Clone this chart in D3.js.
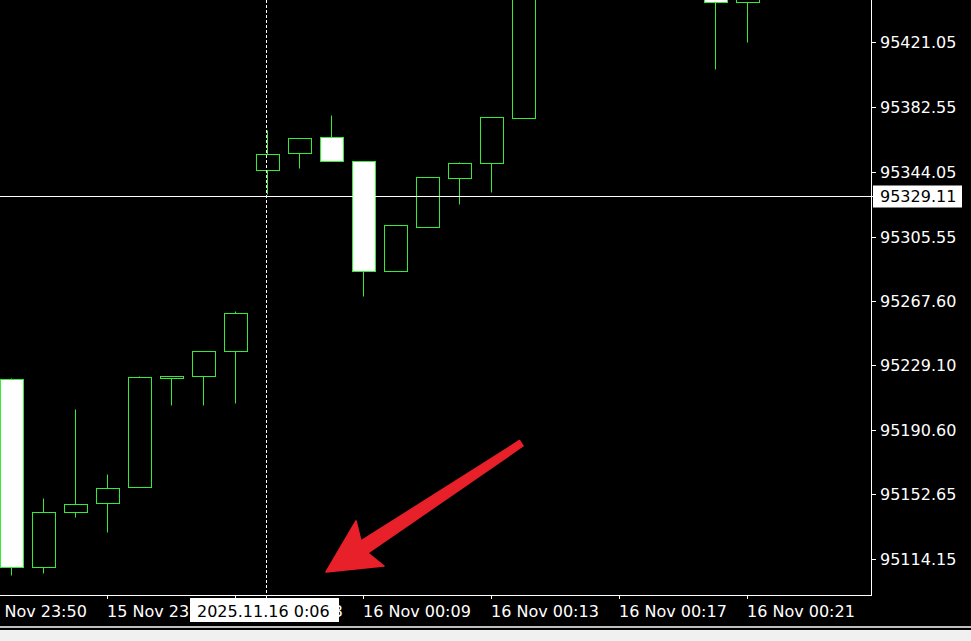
<!DOCTYPE html>
<meta charset="utf-8">
<script src="https://d3js.org/d3.v7.min.js"></script>
<style>
  body { margin: 0; background: #000; }
  svg { display: block; }
  text { font-family: "DejaVu Sans", Verdana, sans-serif; font-size: 16px; }
</style>
<svg id="chart" width="971" height="641"></svg>

<script>

  // bars (index along the time axis) and their prices
  var barIndex = [0, 1, 2, 3, 4, 5, 6, 7, 8, 9, 10, 11, 12, 13, 14, 15, 16, 22, 23];
  var opens  = [95221.1, 95109.6, 95142.2, 95147.5, 95157.0, 95221.4, 95222.8, 95237.7, 95345.0, 95355.1, 95364.6, 95350.3, 95285.1, 95311.2, 95340.2, 95349.1, 95375.8, 95460.0, 95444.9];
  var highs  = [95221.6, 95150.5, 95203.3, 95164.7, 95222.8, 95222.9, 95237.7, 95261.4, 95368.7, 95364.0, 95377.6, 95350.3, 95312.4, 95340.8, 95349.7, 95376.4, 95480.0, 95470.0, 95460.0];
  var lows   = [95104.8, 95106.0, 95139.2, 95130.3, 95157.0, 95205.6, 95205.6, 95206.8, 95330.8, 95346.2, 95350.3, 95270.3, 95285.1, 95311.2, 95324.8, 95331.9, 95375.8, 95404.9, 95420.9];
  var closes = [95109.6, 95142.2, 95146.9, 95156.4, 95222.2, 95222.9, 95237.7, 95260.2, 95354.5, 95364.0, 95350.3, 95285.1, 95312.4, 95340.8, 95349.1, 95376.4, 95470.0, 95444.9, 95455.0];

  // axis labels
  var priceTicks = [95421.05, 95382.55, 95344.05, 95305.55, 95267.60, 95229.10, 95190.60, 95152.65, 95114.15];
  var timeTickBars = [-1, 3, 7, 11, 15, 19, 23];
  var timeTickLabels = ["15 Nov 23:50", "15 Nov 23:58", "16 Nov 00:03", "16 Nov 00:09", "16 Nov 00:13", "16 Nov 00:17", "16 Nov 00:21"];

  // crosshair
  var crossBar = 8;
  var crossPrice = 95329.11;
  var crossDate = "2025.11.16 0:06";

  var svg = d3.select("#chart"),
    width = +svg.attr("width"),
    height = +svg.attr("height");

  var plotW = 871, plotH = 595;
  var green = "#38ea38";

  var candles = barIndex.map(function (b, i) {
    return { bar: b, o: opens[i], h: highs[i], l: lows[i], c: closes[i] };
  });

  var x = d3.scaleLinear().domain([0, 1]).range([11, 43]);
  var y = d3.scaleLinear().domain([95093.0, 95445.8]).range([plotH, 0]);

  // background
  svg.append("rect").attr("width", width).attr("height", height).attr("fill", "#000");
  svg.append("rect").attr("x", 0).attr("y", 630).attr("width", width).attr("height", 11).attr("fill", "#f0f0f0");
  svg.append("line").attr("x1", 0).attr("x2", width).attr("y1", 627).attr("y2", 627)
    .attr("stroke", "#fff").attr("stroke-width", 1.5);

  svg.append("clipPath").attr("id", "plotclip")
    .append("rect").attr("width", plotW).attr("height", plotH);

  var plot = svg.append("g").attr("clip-path", "url(#plotclip)");

  // candles
  var g = plot.selectAll("g.candle")
    .data(candles)
    .enter()
    .append("g")
    .attr("class", "candle");

  g.append("line")
    .attr("x1", function (d) { return x(d.bar) + 0.5; })
    .attr("x2", function (d) { return x(d.bar) + 0.5; })
    .attr("y1", function (d) { return Math.round(y(d.h)) + 0.5; })
    .attr("y2", function (d) { return Math.round(y(d.l)) + 0.5; })
    .attr("stroke", green);

  g.append("rect")
    .attr("x", function (d) { return x(d.bar) - 11 + 0.5; })
    .attr("y", function (d) { return Math.round(y(Math.max(d.o, d.c))) + 0.5; })
    .attr("width", 23)
    .attr("height", function (d) { return Math.max(1, Math.round(y(Math.min(d.o, d.c))) - Math.round(y(Math.max(d.o, d.c)))); })
    .attr("fill", function (d) { return d.c < d.o ? "#fff" : "#000"; })
    .attr("stroke", green);

  // frame
  svg.append("line").attr("x1", plotW + 0.5).attr("x2", plotW + 0.5).attr("y1", 0).attr("y2", plotH + 1)
    .attr("stroke", "#fff");
  svg.append("line").attr("x1", 0).attr("x2", plotW + 1).attr("y1", plotH + 0.5).attr("y2", plotH + 0.5)
    .attr("stroke", "#fff");

  // price axis
  var yAxis = svg.append("g");
  priceTicks.forEach(function (p) {
    var py = Math.round(y(p)) + 0.5;
    yAxis.append("line").attr("x1", plotW + 1).attr("x2", plotW + 5).attr("y1", py).attr("y2", py).attr("stroke", "#fff");
    yAxis.append("text").attr("x", 880).attr("y", py).attr("dy", "0.36em")
      .attr("fill", "#fff").text(p.toFixed(2));
  });

  // time axis
  var xAxis = svg.append("g");
  timeTickBars.forEach(function (b, i) {
    var px = x(b) + 0.5;
    xAxis.append("line").attr("x1", px).attr("x2", px).attr("y1", plotH + 1).attr("y2", plotH + 4).attr("stroke", "#fff");
    xAxis.append("text").attr("x", x(b)).attr("y", 617).attr("fill", "#fff").text(timeTickLabels[i]);
  });

  // crosshair
  var cy = Math.floor(y(crossPrice)) + 0.5;
  var cx = x(crossBar) - 0.5;
  svg.append("line").attr("x1", 0).attr("x2", plotW + 2).attr("y1", cy).attr("y2", cy).attr("stroke", "#fff");
  svg.append("line").attr("x1", cx).attr("x2", cx).attr("y1", 0).attr("y2", plotH + 4)
    .attr("stroke", "#fff").attr("stroke-dasharray", "3,2");

  svg.append("rect").attr("x", 873).attr("y", cy - 11).attr("width", 89).attr("height", 22).attr("fill", "#fff");
  svg.append("text").attr("x", 880).attr("y", cy).attr("dy", "0.36em").attr("fill", "#000").text(crossPrice.toFixed(2));

  svg.append("rect").attr("x", 190).attr("y", 598).attr("width", 149).attr("height", 24).attr("fill", "#fff");
  svg.append("text").attr("x", 197).attr("y", 617).attr("fill", "#000").text(crossDate);

  // red arrow annotation
  var arrow = [[326, 572], [356, 521], [361, 541], [519.5, 440.5], [523, 446], [368, 553], [384, 566]];
  svg.append("path")
    .attr("d", d3.line()(arrow) + "Z")
    .attr("fill", "#e8202a")
    .attr("stroke", "#e8202a")
    .attr("stroke-width", 1.5)
    .attr("stroke-linejoin", "round");

</script>
